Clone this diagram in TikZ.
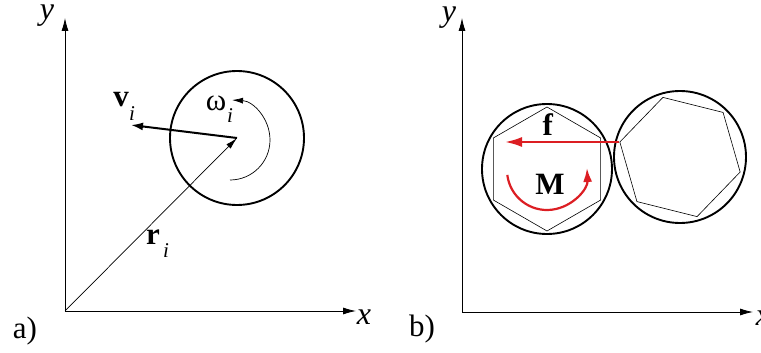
\documentclass[tikz,border=0pt]{standalone}
\usepackage{fontspec}
\setmainfont{Liberation Serif}
\usetikzlibrary{arrows.meta}
\definecolor{myred}{RGB}{220,30,35}
\begin{document}
\begin{tikzpicture}[x=1pt,y=-1pt,
  axis/.style={line width=0.8pt,-{Latex[length=13pt,width=7pt]}},
  body/.style={circle,draw,line width=1.9pt,inner sep=0},
  poly/.style={line width=0.6pt},
  thinarrow/.style={line width=0.7pt,-{Latex[length=12pt,width=6pt]}},
  velarrow/.style={line width=2pt,-{Latex[length=12pt,width=8pt]}},
  redarrow/.style={myred,line width=2.2pt,-{Latex[length=17pt,width=10pt]}},
  lbl/.style={inner sep=0,font=\fontsize{31}{33}\selectfont},
  ilbl/.style={inner sep=0,font=\fontsize{32}{34}\selectfont\itshape},
  sublbl/.style={inner sep=0,font=\fontsize{21}{23}\selectfont\itshape}]
\useasboundingbox (0,0) rectangle (761,353);
% ---------- panel a ----------
\coordinate (Oa) at (65,311);
\coordinate (Ya) at (65,18);
\coordinate (Xa) at (356,311);
\draw[axis] (Oa) -- (Ya);
\draw[axis] (Oa) -- (Xa);
\node[ilbl] (ya) at (47,16) {y};
\node[ilbl] (xa) at (364,317) {x};
\node[lbl] (la) at (25,331) {a)};
\node[body,minimum size=134pt] (ca) at (237,138) {};
\draw[thinarrow] (Oa) -- (ca.center);
\coordinate (va) at (131,125);
\draw[velarrow] (ca.center) -- (va);
\node[lbl] (vlab) at (121,100) {\textbf{v}};
\node[sublbl] (vsub) at (132,114) {i};
\draw[line width=0.7pt,-{Latex[length=11pt,width=6pt]}] (230,180) arc[start angle=90,end angle=-87,radius=40];
\node[lbl] (wlab) at (216,103) {ω};
\node[sublbl] (wsub) at (230,116) {i};
\node[lbl] (rlab) at (153,237) {\textbf{r}};
\node[sublbl] (rsub) at (166,251) {i};
% ---------- panel b ----------
\coordinate (Ob) at (462,312);
\coordinate (Yb) at (462,18);
\coordinate (Xb) at (753,312);
\draw[axis] (Ob) -- (Yb);
\draw[axis] (Ob) -- (Xb);
\node[ilbl] (yb) at (449,18) {y};
\node[ilbl] (xb) at (763,318) {x};
\node[lbl] (lb) at (422,329) {b)};
\node[body,minimum size=130pt] (c1) at (547,169) {};
\node[body,minimum size=132pt] (c2) at (680,157) {};
\draw[poly,shift={(547,169)}] (90:62) -- (150:62) -- (210:62) -- (270:62) -- (330:62) -- (30:62) -- cycle;
\draw[poly,shift={(680,157)}] (14:62) -- (74:62) -- (134:62) -- (194:62) -- (254:62) -- (314:62) -- cycle;
\coordinate (fs) at (619,142);
\coordinate (fe) at (505,142);
\draw[redarrow] (fs) -- (fe);
\node[lbl] (flab) at (548,125) {\textbf{f}};
\draw[myred,line width=2.2pt,-{Latex[length=14pt,width=9pt]}] (547,170) ++(173:40) arc[start angle=173,end angle=-3,radius=40];
\node[lbl] (mlab) at (550,184) {\textbf{M}};
\end{tikzpicture}
\end{document}
